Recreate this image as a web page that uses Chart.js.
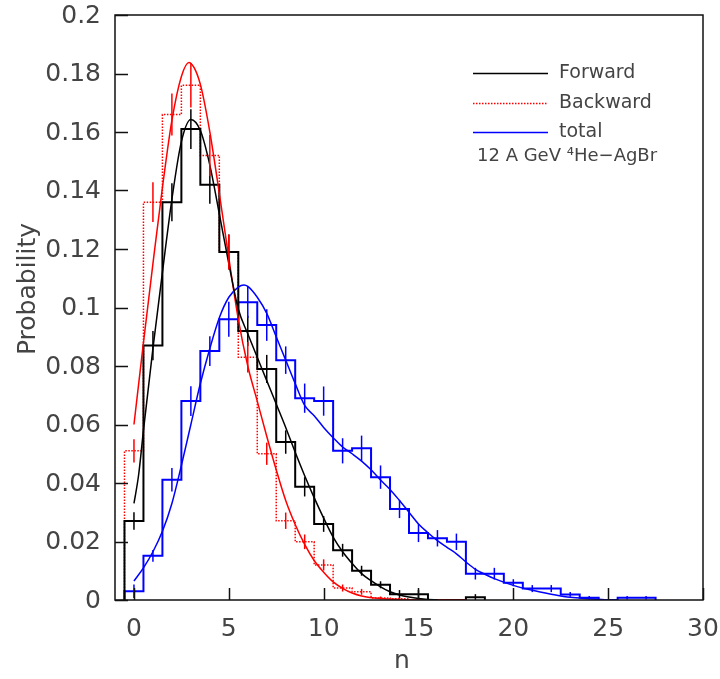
<!DOCTYPE html>
<html>
<head>
<meta charset="utf-8">
<script src="https://cdn.jsdelivr.net/npm/chart.js@4.4.1/dist/chart.umd.min.js"></script>
<style>
  html, body { margin: 0; padding: 0; background: #fff; }
  #wrap { width: 720px; height: 679px; }
</style>
</head>
<body>
<div id="wrap"><canvas id="chart" width="720" height="679"></canvas></div>
<script>
// multiplicity histograms, bin n = 0, 1, 2, ...
const forwardProb = [0.027, 0.087, 0.136, 0.161, 0.142, 0.119, 0.092, 0.079, 0.054, 0.0387,
    0.026, 0.017, 0.010, 0.0052, 0.002, 0.002, 0, 0, 0.0009];
const forwardErr = [0.003, 0.005, 0.0065, 0.0068, 0.0065, 0.006, 0.0052, 0.0048, 0.004, 0.0033,
    0.0027, 0.0022, 0.0017, 0.0012, 0.0014, 0.0014, 0, 0, 0.0011];

const backwardProb = [0.051, 0.136, 0.166, 0.176, 0.152, 0.119, 0.083, 0.050, 0.0271, 0.0199,
    0.012, 0.0041, 0.0028, 0.0007, 0.0004];
const backwardErr = [0.004, 0.0068, 0.0072, 0.0076, 0.007, 0.006, 0.0052, 0.0038, 0.0028, 0.0025,
    0.0019, 0.0012, 0.001, 0.0005, 0.0004];

const totalProb = [0.003, 0.0151, 0.0411, 0.068, 0.0851, 0.096, 0.1018, 0.094, 0.082, 0.069,
    0.068, 0.051, 0.0519, 0.042, 0.0311, 0.0229, 0.0211, 0.0199, 0.009, 0.009,
    0.0059, 0.0039, 0.0039, 0.0019, 0.0008, 0, 0.0008, 0.0008];
const totalErr = [0.0023, 0.002, 0.004, 0.0051, 0.0051, 0.006, 0.0054, 0.0054, 0.0047, 0.005,
    0.005, 0.0043, 0.0043, 0.004, 0.0031, 0.0031, 0.0028, 0.0028, 0.002, 0.002,
    0.0012, 0.0012, 0.0012, 0.0008, 0.0006, 0, 0.0006, 0.0006];

// fitted curves
const forwardFitX = [0, 0.25, 0.5, 1, 1.5, 2, 2.5, 3, 3.5, 4, 4.5, 5, 5.5, 6, 6.5, 7, 7.5, 8, 8.5, 9,
    9.5, 10, 10.5, 11, 11.5, 12, 12.5, 13, 13.5, 14, 14.5, 15, 15.5, 16];
const forwardFitY = [0.033, 0.043, 0.058, 0.086, 0.112, 0.137, 0.1567, 0.1643, 0.1605, 0.1487, 0.132, 0.115, 0.0995, 0.091, 0.083, 0.075, 0.067, 0.059, 0.0505, 0.0425,
    0.035, 0.028, 0.0215, 0.0165, 0.0125, 0.009, 0.0066, 0.0045, 0.0028, 0.0017, 0.001, 0.0005, 0.0002, 0.0001];

const backwardFitX = [0, 0.5, 1, 1.5, 2, 2.5, 2.9, 3.25, 3.55, 4, 4.5, 5, 5.5, 6, 6.5, 7, 7.5, 8, 8.5, 9,
    9.5, 10, 10.5, 11, 11.5, 12, 13, 14, 15, 17.5];
const backwardFitY = [0.060, 0.088, 0.115, 0.141, 0.164, 0.179, 0.1838, 0.181, 0.175, 0.160, 0.139, 0.117, 0.096, 0.080, 0.068, 0.056, 0.0445, 0.034, 0.0258, 0.019,
    0.0135, 0.0095, 0.0062, 0.004, 0.0024, 0.0014, 0.0005, 0.0002, 0.0001, 0];

const totalFitX = [0, 0.5, 1, 1.5, 2, 2.5, 3, 3.5, 4, 4.5, 5, 5.5, 5.8, 6, 6.5, 7, 7.5, 8, 8.5, 9,
    9.5, 10, 10.5, 11, 11.5, 12, 12.5, 13, 13.5, 14, 14.5, 15, 15.5, 16, 16.5, 17, 17.5, 18, 18.5, 19,
    20, 21, 22, 23, 24, 25];
const totalFitY = [0.0065, 0.011, 0.0165, 0.0235, 0.033, 0.046, 0.060, 0.074, 0.086, 0.0965, 0.1035, 0.107, 0.1077, 0.1072, 0.1035, 0.098, 0.090, 0.082, 0.074, 0.0665,
    0.063, 0.059, 0.0555, 0.0523, 0.050, 0.0475, 0.0445, 0.041, 0.0378, 0.034, 0.030, 0.026, 0.023, 0.0203, 0.018, 0.0158, 0.013, 0.0105, 0.0088, 0.0073,
    0.005, 0.0033, 0.002, 0.0009, 0.0004, 0];

const xTicks = [0, 5, 10, 15, 20, 25, 30];
const xTickLabels = ['0', '5', '10', '15', '20', '25', '30'];
const yTicks = [0, 0.02, 0.04, 0.06, 0.08, 0.1, 0.12, 0.14, 0.16, 0.18, 0.2];
const yTickLabels = ['0', '0.02', '0.04', '0.06', '0.08', '0.1', '0.12', '0.14', '0.16', '0.18', '0.2'];

const legendLabels = ['Forward', 'Backward', 'total'];
const infoText = '12 A GeV \u2074He\u2212AgBr';

const BLACK = '#000000';
const RED = '#ff0000';
const BLUE = '#0000ff';
const TEXT = '#444444';
const FONT = "'DejaVu Sans', sans-serif";

// histogram outline: vertical edges at n +- 0.5, back to zero after the last bin
function stepPoints(values) {
    const pts = [{ x: -0.5, y: 0 }];
    values.forEach((v, i) => {
        pts.push({ x: i - 0.5, y: v });
        pts.push({ x: i + 0.5, y: v });
    });
    pts.push({ x: values.length - 0.5, y: 0 });
    return pts;
}

function curvePoints(xs, ys) {
    return xs.map((x, i) => ({ x: x, y: ys[i] }));
}

const errorSets = [
    { values: forwardProb, errors: forwardErr, color: BLACK },
    { values: backwardProb, errors: backwardErr, color: RED },
    { values: totalProb, errors: totalErr, color: BLUE },
];

const legendItems = [
    { label: legendLabels[0], color: BLACK, dash: [] },
    { label: legendLabels[1], color: RED, dash: [1.5, 1.5] },
    { label: legendLabels[2], color: BLUE, dash: [] },
];

// vertical error bars at each bin centre
const errorBarPlugin = {
    id: 'errorBars',
    afterDatasetsDraw(chart) {
        const { ctx, scales: { x, y }, chartArea } = chart;
        ctx.save();
        ctx.beginPath();
        ctx.rect(chartArea.left, chartArea.top, chartArea.right - chartArea.left, chartArea.bottom - chartArea.top);
        ctx.clip();
        ctx.lineWidth = 1.5;
        errorSets.forEach((set) => {
            ctx.strokeStyle = set.color;
            set.values.forEach((v, i) => {
                const e = set.errors[i];
                if (!e) return;
                const px = x.getPixelForValue(i);
                ctx.beginPath();
                ctx.moveTo(px, y.getPixelForValue(Math.max(v - e, 0)));
                ctx.lineTo(px, y.getPixelForValue(v + e));
                ctx.stroke();
            });
        });
        ctx.restore();
    }
};

// frame, inward tick marks, tick labels, axis titles and the legend box
const framePlugin = {
    id: 'frame',
    afterDraw(chart) {
        const { ctx, scales: { x, y }, chartArea: a } = chart;
        ctx.save();
        ctx.strokeStyle = '#111';
        ctx.lineWidth = 1.5;
        ctx.strokeRect(a.left, a.top, a.right - a.left, a.bottom - a.top);

        ctx.beginPath();
        yTicks.forEach((v) => {
            const py = Math.round(y.getPixelForValue(v)) + 0.5;
            ctx.moveTo(a.left, py);
            ctx.lineTo(a.left + 13, py);
        });
        xTicks.forEach((v) => {
            const px = Math.round(x.getPixelForValue(v)) + 0.5;
            ctx.moveTo(px, a.bottom);
            ctx.lineTo(px, a.bottom - 12);
        });
        ctx.stroke();

        ctx.fillStyle = TEXT;
        ctx.font = '25px ' + FONT;
        ctx.textBaseline = 'middle';
        ctx.textAlign = 'right';
        yTicks.forEach((v, i) => {
            ctx.fillText(yTickLabels[i], a.left - 14, y.getPixelForValue(v) + 1);
        });
        ctx.textAlign = 'center';
        xTicks.forEach((v, i) => {
            ctx.fillText(xTickLabels[i], x.getPixelForValue(v), a.bottom + 29);
        });

        ctx.fillText('n', 402, 661);

        ctx.save();
        ctx.translate(28, 289);
        ctx.rotate(-Math.PI / 2);
        ctx.fillText('Probability', 0, 0);
        ctx.restore();

        ctx.font = '19px ' + FONT;
        ctx.textAlign = 'left';
        const rows = [73, 103, 132];
        legendItems.forEach((item, i) => {
            ctx.strokeStyle = item.color;
            ctx.lineWidth = 1.5;
            ctx.setLineDash(item.dash);
            ctx.beginPath();
            ctx.moveTo(473, rows[i] + 0.5);
            ctx.lineTo(548, rows[i] + 0.5);
            ctx.stroke();
            ctx.setLineDash([]);
            ctx.fillText(item.label, 559, rows[i]);
        });
        ctx.font = '18px ' + FONT;
        ctx.fillText(infoText, 477, 156);
        ctx.restore();
    }
};

const histStyle = { fill: false, pointRadius: 0, borderWidth: 2, tension: 0 };
const fitStyle = { fill: false, pointRadius: 0, borderWidth: 1.5, cubicInterpolationMode: 'monotone' };

new Chart(document.getElementById('chart'), {
    type: 'line',
    data: {
        datasets: [
            { label: 'Forward fit', data: curvePoints(forwardFitX, forwardFitY), borderColor: BLACK, ...fitStyle },
            { label: 'Backward fit', data: curvePoints(backwardFitX, backwardFitY), borderColor: RED, ...fitStyle },
            { label: 'total fit', data: curvePoints(totalFitX, totalFitY), borderColor: BLUE, ...fitStyle },
            { label: 'Forward', data: stepPoints(forwardProb), borderColor: BLACK, ...histStyle },
            { label: 'Backward', data: stepPoints(backwardProb), borderColor: RED, borderDash: [1.5, 1.5], ...histStyle, borderWidth: 1.5 },
            { label: 'total', data: stepPoints(totalProb), borderColor: BLUE, ...histStyle },
        ]
    },
    options: {
        responsive: false,
        animation: false,
        events: [],
        layout: { padding: { top: 15, right: 17, left: 0, bottom: 0 } },
        plugins: {
            legend: { display: false },
            tooltip: { enabled: false },
        },
        scales: {
            x: {
                type: 'linear',
                min: -1,
                max: 30,
                grid: { display: false, drawTicks: false },
                border: { display: false },
                ticks: { display: false },
                afterFit: (scale) => { scale.height = 79; },
            },
            y: {
                type: 'linear',
                min: 0,
                max: 0.2,
                grid: { display: false, drawTicks: false },
                border: { display: false },
                ticks: { display: false },
                afterFit: (scale) => { scale.width = 115; },
            },
        },
    },
    plugins: [errorBarPlugin, framePlugin],
});
</script>
</body>
</html>
